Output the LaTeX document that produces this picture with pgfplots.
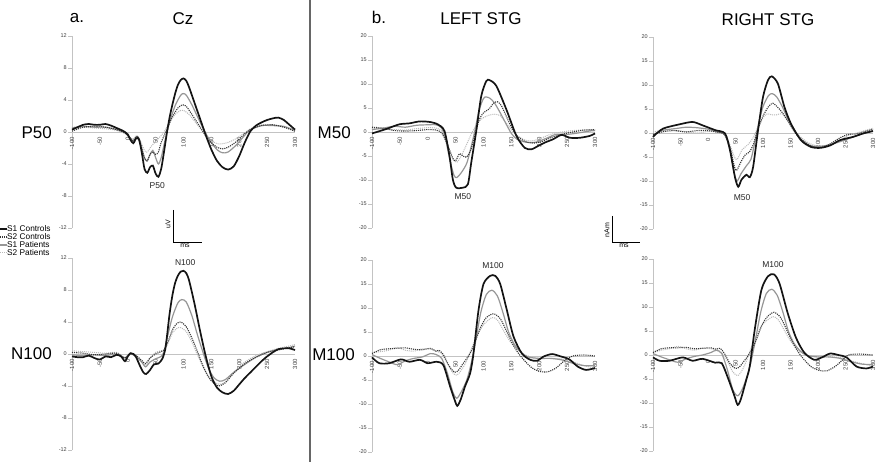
\documentclass[border=0pt]{standalone}
\usepackage{fontspec}
\setmainfont{Liberation Sans}
\usepackage{pgfplots}
\pgfplotsset{compat=1.18}

\definecolor{sonec}{RGB}{20,20,20}
\definecolor{stwoc}{RGB}{55,55,55}
\definecolor{sonep}{RGB}{150,150,150}
\definecolor{stwop}{RGB}{185,185,185}
\definecolor{axisgray}{RGB}{195,195,195}

\tikzset{
  c1/.style={sonec, line width=1.7pt},
  c2/.style={stwoc, line width=1.1pt, densely dotted},
  p1/.style={sonep, line width=1.2pt},
  p2/.style={stwop, line width=1.0pt, densely dotted},
  peak/.style={font=\fontsize{8.5}{9}\selectfont, text=black!85},
}

\pgfplotsset{
  erp/.style={
    scale only axis, width=223pt, height=192pt,
    xmin=-100, xmax=300, anchor=south west,
    axis x line=middle, axis y line=left,
    axis line style={axisgray, line width=0.7pt, -},
    hide obscured x ticks=false, hide obscured y ticks=false,
    xtick={-100,-50,...,300},
    xticklabel style={rotate=90, anchor=east, font=\fontsize{6}{6}\selectfont, text=black!75, inner sep=1pt},
    yticklabel style={font=\fontsize{5.5}{6}\selectfont, text=black!75, inner sep=1pt},
    x tick style={draw=none},
    y tick style={axisgray, line width=0.6pt},
    tick align=outside, major tick length=4pt,
    clip=false,
    /pgf/number format/assume math mode=true,
    every axis plot/.append style={smooth, tension=0.45},
  },
  cz/.style={erp, ymin=-12, ymax=12, ytick={-12,-8,...,12}},
  stg/.style={erp, ymin=-20, ymax=20, ytick={-20,-15,...,20}},
}

\begin{document}
\begin{tikzpicture}
\useasboundingbox (0,0) rectangle (878pt,-462pt);

% ---- a. Cz, P50
\begin{axis}[cz, at={(72pt,-228pt)}]
\addplot[p2] coordinates {(-100,0.6) (-80,0.6) (-60,0.5) (-40,0.4) (-20,0.2) (-5,-0.2) (5,-0.7) (10,-0.9) (15,-0.5) (20,-0.7) (30,-2.3) (35,-2.5) (42,-1.8) (50,-1.2) (58,-0.6) (65,0.0) (75,1.2) (85,2.2) (95,2.7) (100,2.7) (110,2.2) (125,0.9) (140,-0.4) (155,-1.3) (165,-1.5) (180,-1.3) (195,-0.8) (210,-0.1) (220,0.4) (240,0.9) (260,0.9) (280,0.6) (300,0.2)};
\addplot[p1] coordinates {(-100,0.5) (-80,0.7) (-60,0.6) (-40,0.6) (-20,0.3) (-5,-0.1) (5,-0.8) (10,-1.2) (15,-0.6) (20,-0.8) (30,-3.2) (35,-3.6) (40,-2.8) (45,-2.3) (50,-3.2) (55,-4.0) (60,-3.2) (67,-1.0) (75,1.2) (85,3.3) (95,4.6) (100,4.8) (105,4.6) (115,3.4) (130,1.2) (145,-0.8) (160,-2.2) (170,-2.6) (180,-2.5) (195,-1.6) (210,-0.4) (220,0.3) (240,0.8) (260,0.8) (280,0.7) (300,0.2)};
\addplot[c2] coordinates {(-100,0.1) (-80,0.6) (-60,0.7) (-40,0.6) (-20,0.3) (-5,-0.1) (5,-0.8) (10,-1.1) (15,-0.6) (20,-0.8) (30,-3.3) (35,-3.6) (40,-2.8) (45,-2.5) (50,-2.8) (55,-2.5) (60,-1.3) (70,0.3) (80,1.9) (90,3.0) (98,3.4) (105,3.2) (115,2.2) (130,0.6) (145,-1.0) (160,-1.9) (170,-2.1) (180,-1.9) (195,-1.2) (210,-0.2) (220,0.3) (240,0.8) (260,0.9) (280,0.6) (300,0.1)};
\addplot[c1] coordinates {(-100,0.3) (-90,0.6) (-80,0.9) (-70,1.0) (-60,0.9) (-50,0.9) (-40,1.0) (-30,0.8) (-20,0.5) (-10,0.2) (-5,0) (0,-0.3) (5,-1.0) (10,-1.4) (15,-0.8) (20,-0.9) (25,-2.5) (30,-4.6) (35,-5.1) (40,-4.4) (45,-4.2) (50,-5.2) (55,-5.6) (60,-4.6) (65,-2.5) (70,-0.2) (75,1.8) (80,3.4) (85,4.8) (90,5.9) (95,6.5) (100,6.7) (105,6.4) (110,5.6) (120,3.6) (130,1.6) (140,-0.4) (150,-2.2) (160,-3.6) (170,-4.4) (180,-4.7) (190,-4.3) (200,-3.0) (210,-1.3) (220,0.1) (230,0.8) (240,1.2) (250,1.5) (260,1.7) (270,1.8) (280,1.5) (290,0.9) (300,0.3)};
\node[peak] at (axis cs:53,-6.7) {P50};
\end{axis}

% ---- a. Cz, N100
\begin{axis}[cz, at={(72pt,-450pt)}]
\addplot[p2] coordinates {(-100,0.4) (-80,0.3) (-60,0.2) (-40,0.1) (-20,0.2) (-5,-0.4) (5,0.2) (15,-0.2) (25,-1.0) (32,-1.4) (40,-0.5) (50,0.2) (60,0.4) (65,0.5) (72,1.3) (80,2.6) (88,3.2) (95,3.3) (105,2.8) (115,1.5) (125,-0.1) (135,-1.6) (145,-2.8) (155,-3.5) (165,-3.8) (175,-3.5) (190,-2.3) (210,-1.0) (230,-0.2) (250,0.3) (270,0.7) (290,1.0) (300,1.2)};
\addplot[p1] coordinates {(-100,-0.1) (-80,-0.2) (-60,-0.1) (-40,-0.2) (-20,0.0) (-5,-0.5) (5,0.0) (15,-0.3) (25,-1.0) (32,-1.6) (40,-1.0) (50,-0.6) (60,-0.3) (65,0.3) (70,1.8) (80,4.6) (90,6.4) (97,6.8) (105,6.5) (115,4.8) (125,2.4) (135,0.2) (145,-1.8) (155,-3.0) (165,-3.4) (175,-3.2) (190,-2.3) (210,-1.3) (230,-0.4) (250,0.2) (270,0.6) (290,0.8) (300,1.0)};
\addplot[c2] coordinates {(-100,0.2) (-80,0.1) (-60,-0.1) (-40,0.0) (-20,0.1) (-5,-0.5) (5,0.1) (15,-0.2) (25,-0.8) (32,-1.2) (40,-0.5) (50,0.0) (60,0.3) (65,0.5) (72,1.5) (80,3.0) (88,3.8) (95,4.0) (105,3.4) (115,2.0) (125,0.3) (135,-1.5) (145,-2.9) (155,-3.7) (163,-4.0) (175,-3.6) (190,-2.4) (210,-1.2) (230,-0.4) (250,0.2) (270,0.5) (290,0.8) (300,0.9)};
\addplot[c1] coordinates {(-100,-0.3) (-90,-0.4) (-80,-0.4) (-70,-0.2) (-60,-0.5) (-50,-0.7) (-40,-0.3) (-30,-0.4) (-20,-0.1) (-12,-0.3) (-5,-0.9) (0,-0.3) (5,0.1) (10,0.0) (15,-0.4) (22,-1.5) (28,-2.3) (33,-2.5) (40,-2.0) (47,-1.3) (55,-1.2) (62,-0.6) (67,0.5) (70,2.0) (75,5.0) (80,7.3) (85,8.9) (90,9.8) (95,10.3) (100,10.4) (105,10.1) (110,9.2) (120,6.2) (130,2.8) (140,-0.3) (150,-2.8) (160,-4.2) (170,-4.8) (180,-5.0) (190,-4.6) (200,-3.8) (210,-3.0) (220,-2.3) (230,-1.6) (240,-0.9) (250,-0.3) (260,0.2) (270,0.6) (280,0.7) (290,0.7) (300,0.5)};
\node[peak] at (axis cs:103,11.4) {N100};
\end{axis}

% ---- b. LEFT STG, M50
\begin{axis}[stg, at={(372pt,-228pt)}]
\addplot[p2] coordinates {(-100,0.8) (-80,0.6) (-60,0.5) (-40,0.4) (-20,0.7) (0,0.9) (15,0.8) (25,0.2) (35,-2.5) (45,-5.5) (52,-6.3) (60,-5.0) (70,-2.5) (80,0.0) (90,2.0) (100,3.0) (110,3.5) (120,3.7) (130,3.4) (140,2.0) (150,0.5) (160,-0.7) (175,-1.7) (190,-1.8) (205,-1.2) (220,-0.5) (240,0.0) (260,0.3) (280,0.4) (300,0.3)};
\addplot[p1] coordinates {(-100,0.5) (-80,0.8) (-60,1.2) (-40,1.0) (-20,1.4) (0,1.5) (15,1.5) (25,0.8) (32,-1.5) (40,-6) (47,-9) (52,-9.5) (60,-8.5) (70,-6.5) (78,-3) (85,0.5) (92,4.5) (100,7.0) (105,7.3) (112,7.0) (120,6.0) (130,4.0) (140,1.8) (150,-0.3) (160,-1.5) (175,-2.1) (190,-2.2) (200,-1.9) (215,-1.2) (230,-0.5) (250,-0.5) (270,-0.2) (290,0.2) (300,0.3)};
\addplot[c2] coordinates {(-100,1.0) (-80,0.8) (-60,0.3) (-40,0.2) (-20,0.3) (0,0.5) (15,0.4) (25,-0.2) (35,-2.5) (45,-5.5) (50,-6.0) (57,-4.5) (63,-5.0) (70,-5.2) (78,-3.5) (85,-0.5) (92,2.5) (100,4.0) (110,4.8) (118,6.0) (125,6.3) (132,5.5) (140,3.5) (150,1.0) (160,-0.8) (175,-2.0) (190,-2.3) (205,-2.0) (220,-1.2) (240,-0.5) (260,0.0) (280,0.4) (300,0.5)};
\addplot[c1] coordinates {(-100,-0.3) (-75,0.6) (-51,1.6) (-33,1.8) (-15,2.2) (3,2.1) (18,1.6) (30,0.2) (39,-5) (45,-9.9) (51,-11.6) (63,-11.6) (72,-10.9) (78,-6.4) (87,0.2) (96,7.5) (105,10.6) (111,10.8) (123,9.6) (141,4.7) (159,-0.8) (174,-3.3) (186,-3.6) (198,-2.9) (210,-2.2) (225,-1.5) (240,-0.6) (255,-1.2) (273,-1.2) (291,-0.8) (300,-0.3)};
\node[peak] at (axis cs:63,-13.5) {M50};
\end{axis}

% ---- b. LEFT STG, M100
\begin{axis}[stg, at={(372pt,-452pt)}]
\addplot[p2] coordinates {(-100,0.7) (-85,0.9) (-70,1.2) (-55,1.8) (-40,1.2) (-25,1.0) (-10,1.5) (5,1.4) (15,1.0) (25,0.5) (35,-1.5) (45,-3.5) (52,-4.0) (60,-3.0) (70,-1.0) (80,2.0) (90,4.5) (100,6.5) (115,8.0) (125,7.5) (135,5.5) (145,3.5) (155,2.0) (170,0.5) (185,-0.2) (200,-0.5) (220,-0.5) (240,-0.6) (260,-1.2) (280,-2.0) (300,-2.5)};
\addplot[p1] coordinates {(-100,0.3) (-85,-0.5) (-70,-1.2) (-55,-1.8) (-40,-1.0) (-25,-0.5) (-10,-0.2) (5,0.5) (15,0.3) (25,-0.5) (35,-3.5) (45,-7.5) (52,-8.8) (60,-7.5) (70,-5.0) (78,-1.5) (85,2.5) (95,9.0) (105,12.8) (115,13.7) (125,12.5) (135,9.0) (145,5.0) (155,2.5) (165,1.0) (180,-0.2) (200,-0.5) (220,-0.5) (240,-0.8) (260,-1.5) (280,-2.0) (300,-2.0)};
\addplot[c2] coordinates {(-100,0.5) (-85,1.3) (-70,1.5) (-55,1.6) (-40,1.7) (-25,1.4) (-10,1.3) (5,1.6) (15,1.0) (20,1.2) (28,0.3) (38,-2.0) (48,-3.4) (55,-3.0) (62,-1.8) (70,-0.5) (78,1.0) (85,3.0) (95,6.0) (105,8.0) (118,8.8) (130,7.8) (140,5.5) (150,3.0) (160,1.0) (170,-0.5) (185,-2.3) (200,-3.2) (215,-3.3) (230,-2.5) (245,-1.0) (260,0.0) (280,0.2) (300,0.0)};
\addplot[c1] coordinates {(-100,-0.3) (-87,-1.5) (-69,-1.5) (-48,-0.7) (-33,-1.2) (-14,-0.8) (0,-1.5) (16,-1.2) (28,-1.9) (40,-6.3) (49,-9.4) (53,-10.4) (59,-9.1) (67,-6.3) (76,-3.6) (82,0.5) (91,9.5) (100,15) (112,16.7) (121,16.7) (130,15) (142,9.5) (154,4.0) (169,0.5) (184,-0.8) (196,-1.0) (208,-0.1) (223,0.4) (239,-0.1) (254,-0.7) (269,-2.2) (284,-2.9) (300,-2.5)};
\node[peak] at (axis cs:117,18.9) {M100};
\end{axis}

% ---- RIGHT STG, M50
\begin{axis}[stg, at={(653pt,-229pt)}, width=220pt]
\addplot[p2] coordinates {(-100,0.2) (-80,0.6) (-60,0.5) (-40,0.3) (-20,0.0) (0,0.3) (15,0.3) (30,-0.2) (40,-2.5) (48,-5.0) (53,-5.5) (62,-3.5) (72,-2.5) (82,-1.0) (90,1.0) (100,3.2) (108,4.0) (115,3.8) (125,3.8) (135,4.0) (145,2.5) (155,0.8) (170,-1.0) (185,-2.2) (200,-2.7) (220,-2.5) (240,-1.5) (255,-0.5) (270,0.0) (285,0.5) (300,1.0)};
\addplot[p1] coordinates {(-100,-0.3) (-80,0.6) (-60,0.9) (-40,1.2) (-20,1.1) (0,0.8) (15,0.3) (30,-0.3) (40,-3.5) (48,-8.5) (53,-10.0) (60,-8.5) (70,-6.8) (78,-5.5) (85,-2.0) (92,2.0) (100,5.5) (110,7.8) (117,8.2) (125,7.5) (135,5.5) (145,3.0) (155,0.8) (170,-1.5) (185,-2.6) (200,-2.8) (220,-2.5) (240,-1.8) (260,-1.0) (280,-0.2) (300,0.5)};
\addplot[c2] coordinates {(-100,-0.3) (-80,0.3) (-60,0.5) (-40,0.2) (-20,0.5) (0,0.5) (15,0.2) (30,-0.3) (40,-3) (48,-7) (52,-7.8) (60,-6) (68,-4.5) (75,-4) (82,-2.5) (90,0.5) (100,3.5) (110,5.5) (118,6.2) (128,5.2) (138,3.8) (148,2.0) (160,-0.2) (175,-1.8) (190,-2.8) (205,-3.0) (220,-2.4) (240,-1.0) (255,-0.3) (270,-0.2) (285,0.3) (300,0.8)};
\addplot[c1] coordinates {(-100,-0.8) (-82,0.9) (-52,1.8) (-28,2.3) (-10,1.6) (13,0.6) (31,-0.1) (40,-3.6) (49,-9.2) (55,-11.2) (61,-9.7) (70,-8.7) (76,-9.2) (82,-7.1) (91,0.6) (100,7.5) (109,11) (116,11.8) (127,10.3) (139,5.4) (151,1.9) (169,-1.5) (187,-2.9) (204,-3.1) (222,-2.6) (240,-1.5) (264,-0.8) (282,-0.1) (300,0.4)};
\node[peak] at (axis cs:62,-13.5) {M50};
\end{axis}

% ---- RIGHT STG, M100
\begin{axis}[stg, at={(653pt,-451pt)}, width=220pt]
\addplot[p2] coordinates {(-100,0.5) (-85,1.0) (-70,1.3) (-55,1.8) (-40,1.3) (-25,1.0) (-10,1.4) (5,1.3) (15,1.0) (25,0.5) (35,-1.2) (45,-3.5) (54,-4.3) (62,-3.2) (70,-1.2) (80,2.0) (90,4.5) (100,6.5) (118,8.0) (128,7.3) (138,5.3) (148,3.3) (158,1.8) (170,0.5) (185,-0.2) (200,-0.4) (220,-0.4) (240,-0.5) (260,-1.2) (280,-1.8) (300,-2.3)};
\addplot[p1] coordinates {(-100,0.3) (-85,-0.4) (-70,-1.0) (-55,-1.5) (-40,-0.8) (-25,-0.3) (-10,0.0) (5,0.5) (15,1.0) (25,0.3) (35,-3.0) (45,-7.2) (54,-8.5) (62,-7.2) (70,-4.8) (78,-1.5) (86,3.0) (96,9.0) (106,12.8) (116,13.7) (126,12.4) (136,9.0) (146,5.0) (156,2.5) (168,0.8) (180,-0.1) (200,-0.4) (220,-0.4) (240,-0.7) (260,-1.4) (280,-1.9) (300,-2.0)};
\addplot[c2] coordinates {(-100,0.5) (-85,1.3) (-70,1.5) (-55,1.5) (-40,1.6) (-25,1.3) (-10,1.4) (5,1.5) (15,1.2) (22,1.4) (30,0.3) (40,-1.8) (50,-2.8) (57,-2.5) (64,-1.5) (72,-0.3) (80,1.2) (88,3.2) (98,6.2) (108,8.0) (120,8.9) (132,7.8) (142,5.5) (152,3.0) (162,1.0) (172,-0.6) (187,-2.4) (202,-3.2) (216,-3.3) (231,-2.4) (245,-1.0) (255,0.0) (275,0.2) (300,0.0)};
\addplot[c1] coordinates {(-100,-0.5) (-88,-1.2) (-70,-1.2) (-46,-0.5) (-28,-1.2) (-10,-0.8) (13,-1.6) (25,-1.7) (37,-5.0) (48,-8.5) (54,-10.4) (60,-9.1) (70,-5.0) (76,-2.3) (85,5.3) (97,13.5) (109,16.4) (120,16.8) (130,14.9) (145,8.7) (160,3.6) (175,0.5) (193,-1.0) (207,-0.5) (222,0.3) (237,0.0) (252,-0.5) (270,-2.4) (288,-2.8) (300,-2.4)};
\node[peak] at (axis cs:118,18.9) {M100};
\end{axis}

% ---- titles and row labels
\begin{scope}[font=\fontsize{17}{17}\selectfont]
\node at (77pt,-18pt) {a.};
\node at (183pt,-19pt) {Cz};
\node at (379pt,-17pt) {b.};
\node at (481pt,-19pt) {LEFT STG};
\node at (768pt,-20pt) {RIGHT STG};
\node[anchor=east, inner sep=0pt] at (52pt,-133pt) {P50};
\node[anchor=east, inner sep=0pt] at (52pt,-354pt) {N100};
\node[anchor=east, inner sep=0pt] at (351pt,-133pt) {M50};
\node[anchor=east, inner sep=0pt] at (355pt,-355pt) {M100};
\end{scope}

% ---- divider
\draw[black!60, line width=1.3pt] (310pt,0pt) -- (310pt,-462pt);

% ---- legend
\begin{scope}[font=\fontsize{8.3}{8}\selectfont]
\draw[c1, line width=1.2pt] (0pt,-229pt) -- (7pt,-229pt);
\node[anchor=west, inner sep=0pt] at (7pt,-229pt) {S1 Controls};
\draw[c2] (0pt,-237pt) -- (7pt,-237pt);
\node[anchor=west, inner sep=0pt] at (7pt,-237pt) {S2 Controls};
\draw[p1] (0pt,-245pt) -- (7pt,-245pt);
\node[anchor=west, inner sep=0pt] at (7pt,-245pt) {S1 Patients};
\draw[p2] (0pt,-253pt) -- (7pt,-253pt);
\node[anchor=west, inner sep=0pt] at (7pt,-253pt) {S2 Patients};
\end{scope}

% ---- scale bars
\begin{scope}[font=\fontsize{7}{7}\selectfont]
\draw[black, line width=0.8pt] (173pt,-210pt) -- (173pt,-242pt) -- (202pt,-242pt);
\node[rotate=90, inner sep=0pt] at (168pt,-224pt) {uV};
\node[inner sep=0pt] at (185pt,-246pt) {ms};
\draw[black, line width=0.8pt] (612pt,-216pt) -- (612pt,-242pt) -- (640pt,-242pt);
\node[rotate=90, inner sep=0pt] at (607pt,-230pt) {nAm};
\node[inner sep=0pt] at (624pt,-246pt) {ms};
\end{scope}
\end{tikzpicture}
\end{document}
